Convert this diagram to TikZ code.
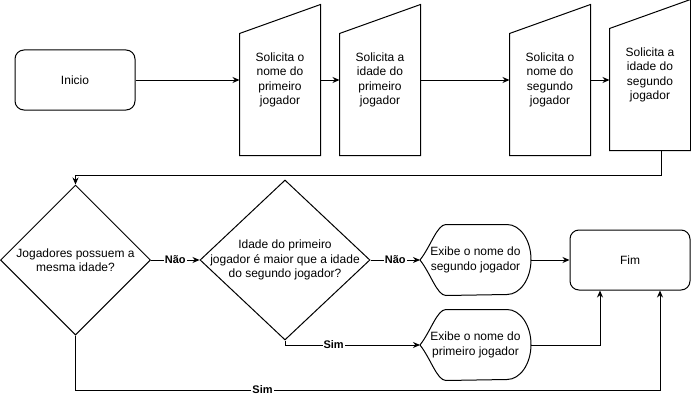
\documentclass[tikz,border=0pt]{standalone}
\usepackage{fontspec}
\setmainfont{Liberation Sans}
\usetikzlibrary{shapes.geometric,arrows.meta}
\tikzset{
  arr/.style={-{Stealth[length=7pt,width=6pt]}},
  lbl/.style={fill=white,inner sep=1pt,font=\fontsize{11}{13}\selectfont\bfseries},
  terminal/.style={draw,rounded corners=9pt,minimum width=120pt,minimum height=60pt},
  manual/.style={minimum width=80pt,minimum height=150pt,inner sep=0pt},
  decision/.style={draw,diamond,shape aspect=1.06,inner xsep=-14pt,inner ysep=0pt},
  display/.style={minimum width=110pt,minimum height=70pt,inner sep=0pt},
}
\begin{document}
\begin{tikzpicture}[x=1pt,y=1pt,line width=1pt,align=center,font=\fontsize{12}{14.5}\selectfont]
\useasboundingbox (0,0) rectangle (691,400);
% coordinates
\coordinate (turn) at (661,225);%
\coordinate (low)  at (660,10);%
% nodes
\node[terminal] (inicio) at (75,320)  {Inicio};
\node[manual]   (sol1)   at (280,320) {Solicita o\\nome do\\primeiro\\jogador};
\node[manual]   (sol2)   at (380,320) {Solicita a\\idade do\\primeiro\\jogador};
\node[manual]   (sol3)   at (550,320) {Solicita o\\nome do\\segundo\\jogador};
\node[manual]   (sol4)   at (650,325) {Solicita a\\idade do\\segundo\\jogador};
\node[decision,minimum width=150pt,minimum height=150pt] (dec1) at (75.5,140)
  {Jogadores possuem a\\mesma idade?};
\node[decision,minimum width=170pt,minimum height=160pt] (dec2) at (285,140)
  {Idade do primeiro\\jogador é maior que a idade\\do segundo jogador?};
\node[display]  (disp2)  at (475.5,140) {Exibe o nome do\\segundo jogador};
\node[display]  (disp1)  at (475.5,55)  {Exibe o nome do\\primeiro jogador};
\node[terminal] (fim)    at (630,140) {Fim};
% outlines
\foreach \n in {sol1,sol2,sol3,sol4}
  \draw (\n.south west) -- (\n.south east) -- (\n.north east)
        -- ([yshift=-29pt]\n.north west) -- cycle;
\foreach \n in {disp1,disp2}
  \draw (\n.west) .. controls +(11,14) and +(-9,0) .. ([xshift=26pt]\n.north west)
        -- ([xshift=-24pt]\n.north east)
        arc[start angle=90,end angle=-90,x radius=24,y radius=35]
        -- ([xshift=26pt]\n.south west) .. controls +(-9,0) and +(11,-14) .. cycle;
% connectors
\draw[arr] (inicio.east) -- (sol1.west);
\draw[arr] (sol1.east)   -- (sol2.west);
\draw[arr] (sol2.east)   -- (sol3.west);
\draw[arr] (sol3.east)   -- (sol3.east -| sol4.west);
\draw[arr] (sol4.south -| turn) -- (turn) -| (dec1.north);
\draw[arr] (dec1.east)   -- node[lbl] {Não} (dec2.west);
\draw[arr] (dec2.east)   -- node[lbl] {Não} (disp2.west);
\draw[arr] (dec2.south)  |- node[lbl,pos=0.68] {Sim} (disp1.west);
\draw[arr] (disp2.east)  -- (fim.west);
\draw[arr] (disp1.east)  -| ([xshift=-30pt]fim.south);
\draw[arr] (dec1.south)  |- node[lbl,pos=0.66] {Sim} (low) -- (low |- fim.south);
\end{tikzpicture}
\end{document}
